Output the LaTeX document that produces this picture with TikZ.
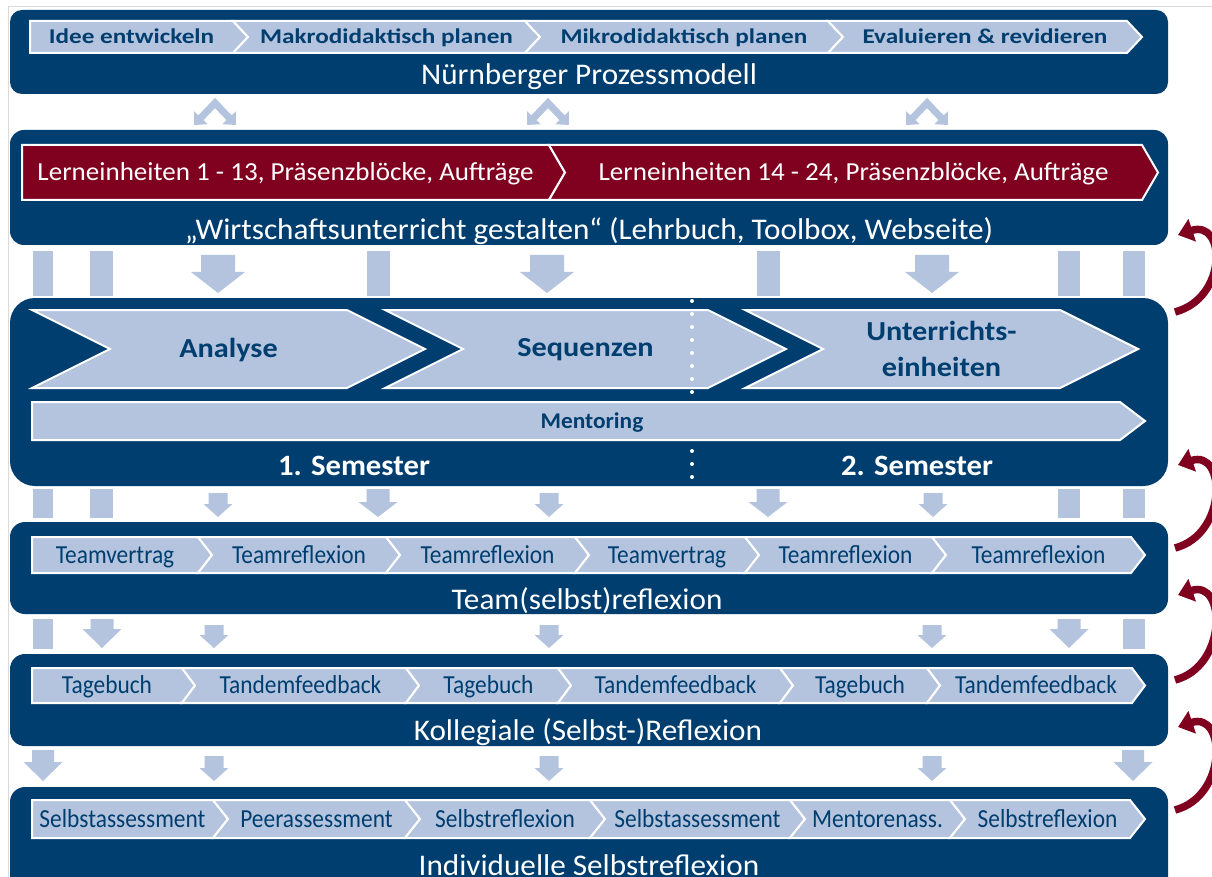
\documentclass[tikz,border=0pt]{standalone}
\usepackage{fontspec}
\setmainfont{Carlito}
\newfontfamily\headfont{Carlito}[FakeStretch=1.2]
\newfontfamily\labelfont{Carlito}[FakeStretch=1.04]
\newfontfamily\bigfont{Carlito}[FakeStretch=1.1]
\newfontfamily\rowfont{Carlito}[FakeStretch=0.9]
\usetikzlibrary{arrows.meta}

\definecolor{navy}{RGB}{0,62,112}
\definecolor{paleblue}{RGB}{180,196,222}
\definecolor{wine}{RGB}{128,0,32}
\definecolor{framegray}{RGB}{218,218,218}

% one row of chevrons: top, bottom, depth, shape style, text style, L/R/text/name
\newcommand{\segrow}[6]{%
  \foreach \l/\r/\txt/\nm [count=\i] in {#6} {
    \pgfmathsetmacro{\nd}{\i>1 ? #3 : 0}
    \path[#4] (\l,#1) -- (\r,#1) -- ({\r+#3},{(#1+#2)/2}) -- (\r,#2) -- (\l,#2) -- ({\l+\nd},{(#1+#2)/2}) -- cycle;
    \node[#5] (\nm) at ({(\l+\nd+\r)/2},{(#1+#2)/2}) {\txt};
  }
}
% block arrow pointing down: x, top, head start, tip, shaft width, head width
\newcommand{\downblock}[6]{%
  \fill[paleblue] ({#1-#5/2},#2) -- ({#1+#5/2},#2) -- ({#1+#5/2},#3) -- ({#1+#6/2},#3) -- (#1,#4) -- ({#1-#6/2},#3) -- ({#1-#5/2},#3) -- cycle;
}

\begin{document}
\begin{tikzpicture}[x=1pt,y=-1pt]

	\tikzstyle{band} = [fill=navy]
	\tikzstyle{seg} = [fill=paleblue, draw=white, line width=2pt]
	\tikzstyle{redseg} = [fill=wine, draw=white, line width=2pt]
	\tikzstyle{segtext} = [text=navy, font=\rowfont\fontsize{26}{30}\selectfont, inner sep=0pt, text height=18.2pt, text depth=1.6pt]
	\tikzstyle{headtext} = [text=navy, font=\headfont\bfseries\fontsize{21}{24}\selectfont, inner sep=0pt, text height=14.7pt, text depth=1.3pt]
	\tikzstyle{redtext} = [text=white, font=\labelfont\fontsize{26}{30}\selectfont, inner sep=0pt, text height=18.2pt, text depth=1.6pt]
	\tikzstyle{bandtext} = [text=white, font=\labelfont\fontsize{30}{34}\selectfont, inner sep=0pt, text height=21pt, text depth=1.8pt]
	\tikzstyle{bigtext} = [text=navy, font=\bigfont\bfseries\fontsize{27.5}{36}\selectfont, align=center, inner sep=0pt]
	\tikzstyle{mentortext} = [text=navy, font=\labelfont\bfseries\fontsize{22.5}{26}\selectfont, inner sep=0pt, text height=15.75pt, text depth=1.35pt]
	\tikzstyle{semtext} = [text=white, font=\labelfont\bfseries\fontsize{29.5}{34}\selectfont, inner sep=0pt, text height=20.65pt, text depth=1.8pt]
	\tikzstyle{loopback} = [draw=wine, line width=7.5pt, -{Triangle[length=15pt,width=23pt]}]
	\tikzstyle{twoway} = [draw=paleblue, line width=7pt, {Triangle[length=10pt,width=18pt]}-{Triangle[length=10pt,width=18pt]}]

	\useasboundingbox (0,0) rectangle (1212,877);
	\clip (0,0) rectangle (1212,877);
	\fill[white] (0,0) rectangle (1212,877);
	\draw[framegray, line width=1pt] (8,877) -- (8,7) -- (1212,7);

	% bands
	\fill[band, rounded corners=12pt] (10,10) rectangle (1168,94);
	\fill[band, rounded corners=14pt] (10,130) rectangle (1168,245);
	\fill[band, rounded corners=25pt] (10,298) rectangle (1168,486);
	\fill[band, rounded corners=15pt] (10,522) rectangle (1168,614);
	\fill[band, rounded corners=15pt] (10,654) rectangle (1168,746);
	\fill[band, rounded corners=15pt] (10,787) rectangle (1168,910);

	% Nuernberger Prozessmodell
	\segrow{21}{53}{15}{seg}{headtext}{30/233/Idee entwickeln/idee, 233/525/Makrodidaktisch planen/makro, 525/828/Mikrodidaktisch planen/mikro, 828/1127/Evaluieren \& revidieren/eval}
	\node[bandtext] (prozess) at (589,75) {Nürnberger Prozessmodell};

	\foreach \x in {215,548,927}
		\draw[twoway] ({\x-21},125) -- (\x,103) -- ({\x+21},125);

	% Lehrbuch
	\segrow{145}{200}{16}{redseg}{redtext}{22/549/{Lerneinheiten 1 - 13, Präsenzblöcke, Aufträge}/lern1, 549/1142/{Lerneinheiten 14 - 24, Präsenzblöcke, Aufträge}/lern2}
	\node[bandtext] (lehrbuch) at (589,230) {„Wirtschaftsunterricht gestalten“ (Lehrbuch, Toolbox, Webseite)};

	\foreach \xa/\xb in {33/53, 90/113, 367/390, 757/780, 1058/1080, 1123/1145}
		\fill[paleblue] (\xa,251) rectangle (\xb,296);
	\foreach \x in {218,547,932}
		{\downblock{\x}{255}{272}{293}{34}{54}}

	% Semester
	\foreach \l/\r/\txt/\nm/\ty in {32/347/Analyse/analyse/350, 385/708/Sequenzen/sequenzen/350, 745/1060/{Unterrichts-\\einheiten}/einheiten/349} {
		\path[seg] (\l,310) -- (\r,310) -- ({\r+78},349) -- (\r,388) -- (\l,388) -- ({\l+78},349) -- cycle;
		\node[bigtext] (\nm) at ({(\l+78+\r)/2},\ty) {\txt};
	}
	\draw[white, line width=4pt, line cap=round, dash pattern=on 0pt off 13pt] (692,301) -- (692,398);
	\draw[white, line width=4pt, line cap=round, dash pattern=on 0pt off 13pt] (692,451) -- (692,488);
	\path[seg] (32,402) -- (1120,402) -- (1145,421) -- (1120,440) -- (32,440) -- cycle;
	\node[mentortext] (mentoring) at (592,421) {Mentoring};
	\node[semtext] (sem1) at (354,466) {1. Semester};
	\node[semtext] (sem2) at (917,466) {2. Semester};

	\foreach \xa/\xb in {33/53, 90/113, 1058/1080, 1123/1145}
		\fill[paleblue] (\xa,489) rectangle (\xb,518);
	\foreach \x in {218,549,933}
		{\downblock{\x}{493}{504}{517}{19}{29}}
	\foreach \x in {378,768}
		{\downblock{\x}{489}{502}{517}{23}{39}}

	% Team
	\segrow{537}{573}{14}{seg}{segtext}{32/198/Teamvertrag/tv1, 198/386/Teamreflexion/tr1, 386/575/Teamreflexion/tr2, 575/745/Teamvertrag/tv2, 745/932/Teamreflexion/tr3, 932/1131/Teamreflexion/tr4}
	\node[bandtext] (team) at (587,600) {Team(selbst)reflexion};

	\foreach \xa/\xb in {33/53, 1123/1145}
		\fill[paleblue] (\xa,619) rectangle (\xb,649);
	\foreach \x in {102,1069}
		{\downblock{\x}{619}{629}{648}{23}{39}}
	\foreach \x in {214,549,932}
		{\downblock{\x}{625}{635}{648}{19}{29}}

	% Kollegial
	\segrow{668}{703}{13}{seg}{segtext}{32/182/Tagebuch/tb1, 182/406/Tandemfeedback/tf1, 406/558/Tagebuch/tb2, 558/780/Tandemfeedback/tf2, 780/927/Tagebuch/tb3, 927/1132/Tandemfeedback/tf3}
	\node[bandtext] (kollegial) at (588,731) {Kollegiale (Selbst-)Reflexion};

	\foreach \x in {43,1133}
		{\downblock{\x}{750}{762}{781}{22}{39}}
	\foreach \x in {214,549,932}
		{\downblock{\x}{756}{768}{781}{19}{29}}

	% Individuell
	\segrow{800}{838}{15}{seg}{segtext}{32/213/Selbstassessment/sa1, 213/405/Peerassessment/pa, 405/590/Selbstreflexion/sr1, 590/790/Selbstassessment/sa2, 790/950/Mentorenass./ma, 950/1130/Selbstreflexion/sr2}
	\node[bandtext] (individuell) at (589,866) {Individuelle Selbstreflexion};

	% Rueckkopplung
	\foreach \ta/\tb in {225/312, 455/548, 585/680, 717/810}
		\draw[loopback] (1175,\tb) .. controls (1228,{\tb-14}) and (1226,{\ta-6}) .. (1178,{\ta+10});

\end{tikzpicture}
\end{document}
